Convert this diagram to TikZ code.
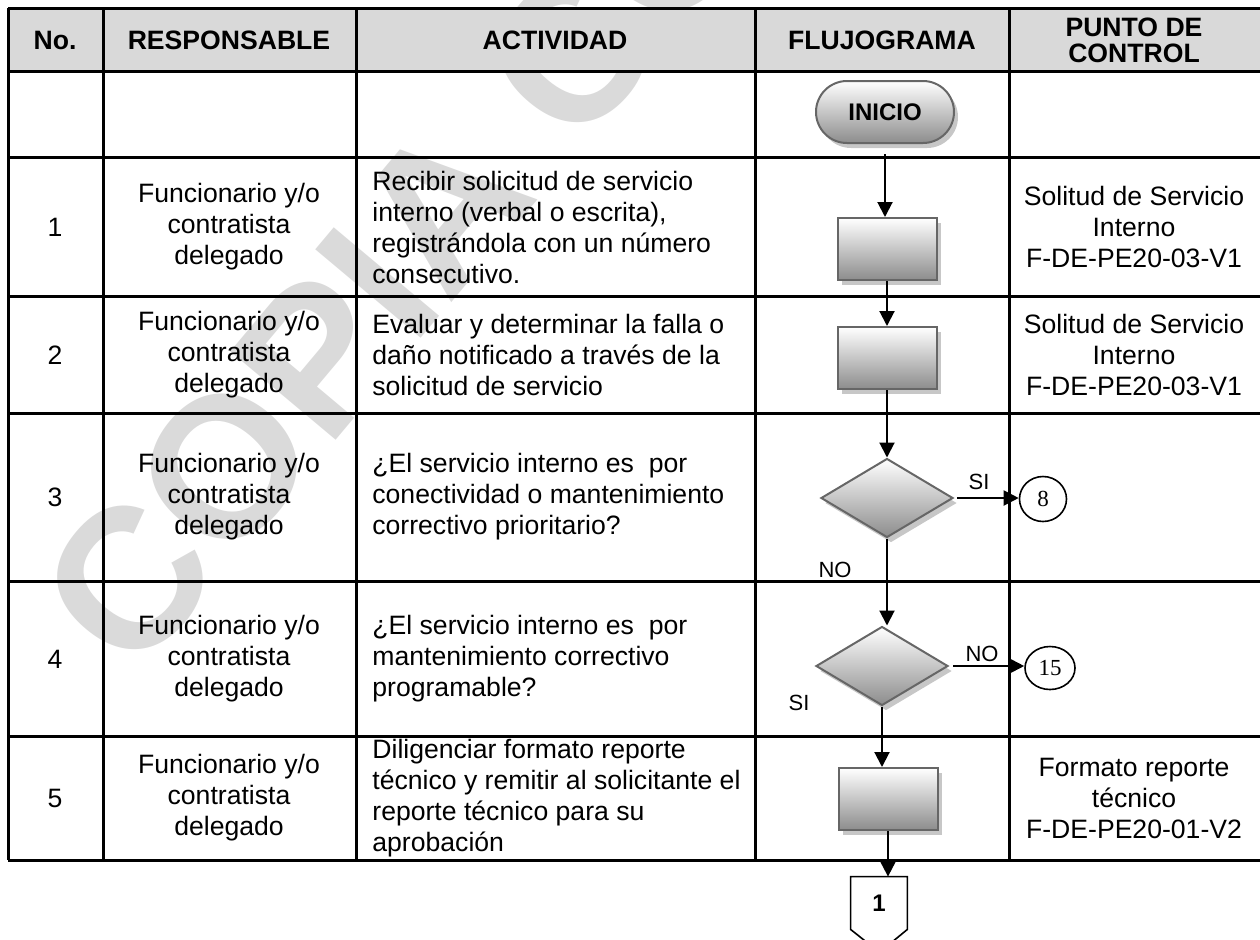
\documentclass[tikz,border=0pt]{standalone}
\usepackage{fontspec}
\setmainfont{Liberation Sans}
\newfontfamily\numfont{Liberation Serif}
\usetikzlibrary{arrows.meta,shapes.geometric,shapes.misc,shadows}
\definecolor{headgray}{HTML}{D9D9D9}
\definecolor{markgray}{HTML}{DADADA}
\begin{document}
\begin{tikzpicture}[x=0.5pt,y=0.5pt]
				\tikzstyle{every node}+=[inner sep=0pt]
				\tikzstyle{tablerule}=[black, line width=1.5pt]
				\tikzstyle{head}=[font=\fontsize{13.3}{13}\selectfont\bfseries, align=center]
				\tikzstyle{txt}=[font=\fontsize{13.3}{15.5}\selectfont, align=center]
				\tikzstyle{act}=[font=\fontsize{13.3}{15.5}\selectfont, align=left, anchor=west]
				\tikzstyle{flowshape}=[draw=black!60, line width=1pt, top color=white, bottom color=black!45, drop shadow={shadow xshift=2pt, shadow yshift=-2.5pt, fill=black!22, opacity=1}]
				\tikzstyle{proc}=[flowshape, rectangle, minimum width=49.5pt, minimum height=31pt]
				\tikzstyle{decision}=[flowshape, diamond, minimum width=66pt, minimum height=39.5pt]
				\tikzstyle{terminal}=[flowshape, rounded rectangle, minimum width=69pt, minimum height=31pt, font=\fontsize{12}{14}\selectfont\bfseries]
				\tikzstyle{jump}=[draw, ellipse, line width=0.8pt, minimum width=23.5pt, minimum height=22.5pt, font=\numfont\fontsize{11.5}{13}\selectfont]
				\tikzstyle{arr}=[black, line width=1pt, -{Triangle[width=7.5pt,length=7.5pt]}]
				\tikzstyle{lbl}=[font=\fontsize{11}{13}\selectfont]
				\useasboundingbox (0,0) rectangle (1260,-939);
				\node[rotate=50, anchor=base west, text=markgray, font=\fontsize{100}{100}\selectfont\bfseries] (wmark) at (134,-681) {COPIA CONTROLADA};
				\fill [headgray] (8,-8) rectangle (1260,-71);
				\draw [tablerule] (8,-8) -- (1260,-8);
				\draw [tablerule] (8,-71) -- (1260,-71);
				\draw [tablerule] (8,-157) -- (1260,-157);
				\draw [tablerule] (8,-296) -- (1260,-296);
				\draw [tablerule] (8,-413) -- (1260,-413);
				\draw [tablerule] (8,-581) -- (1260,-581);
				\draw [tablerule] (8,-736) -- (1260,-736);
				\draw [tablerule] (8,-860) -- (1260,-860);
				\draw [tablerule] (8,-8) -- (8,-860);
				\draw [tablerule] (103,-8) -- (103,-860);
				\draw [tablerule] (356,-8) -- (356,-860);
				\draw [tablerule] (755,-8) -- (755,-860);
				\draw [tablerule] (1009,-8) -- (1009,-860);
				\node[head] (hno) at (55,-40) {No.};
				\node[head] (hresp) at (229,-40) {RESPONSABLE};
				\node[head] (hact) at (555,-40) {ACTIVIDAD};
				\node[head] (hflujo) at (882,-40) {FLUJOGRAMA};
				\node[head] (hctrl) at (1134,-40) {PUNTO DE\\CONTROL};
				\node[txt] (no1) at (55,-227) {1};
				\node[txt] (resp1) at (229,-227) {Funcionario y/o\\contratista\\delegado};
				\node[act] (act1) at (372,-227) {Recibir solicitud de servicio\\interno (verbal o escrita),\\registrándola con un número\\consecutivo.};
				\node[txt] (ctrl1) at (1134,-227) {Solitud de Servicio\\Interno\\F-DE-PE20-03-V1};
				\node[txt] (no2) at (55,-355) {2};
				\node[txt] (resp2) at (229,-355) {Funcionario y/o\\contratista\\delegado};
				\node[act] (act2) at (372,-355) {Evaluar y determinar la falla o\\daño notificado a través de la\\solicitud de servicio};
				\node[txt] (ctrl2) at (1134,-355) {Solitud de Servicio\\Interno\\F-DE-PE20-03-V1};
				\node[txt] (no3) at (55,-497) {3};
				\node[txt] (resp3) at (229,-497) {Funcionario y/o\\contratista\\delegado};
				\node[act] (act3) at (372,-497) {¿El servicio interno es~ por\\conectividad o mantenimiento\\correctivo prioritario?};
				\node[txt] (no4) at (55,-659) {4};
				\node[txt] (resp4) at (229,-659) {Funcionario y/o\\contratista\\delegado};
				\node[act] (act4) at (372,-659) {¿El servicio interno es~ por\\mantenimiento correctivo\\programable?};
				\node[txt] (no5) at (55,-798) {5};
				\node[txt] (resp5) at (229,-798) {Funcionario y/o\\contratista\\delegado};
				\node[act] (act5) at (372,-798) {Diligenciar formato reporte\\técnico y remitir al solicitante el\\reporte técnico para su\\aprobación};
				\node[txt] (ctrl5) at (1134,-798) {Formato reporte\\técnico\\F-DE-PE20-01-V2};
				\node[terminal] (inicio) at (885,-112) {INICIO};
				\node[proc] (box1) at (887,-249) {};
				\node[proc] (box2) at (887,-358) {};
				\node[decision] (dec1) at (887,-498) {};
				\node[decision] (dec2) at (882,-666) {};
				\node[proc] (box5) at (888,-799) {};
				\node[jump] (to8) at (1043,-499) {8};
				\node[jump, minimum width=25pt, minimum height=21.5pt] (to15) at (1050,-668) {15};
				\node[minimum width=28pt, minimum height=26pt, font=\fontsize{12}{14}\selectfont\bfseries] (conn1) at (879,-903) {1};
				\draw [black, line width=0.8pt] (conn1.south west) -- (conn1.north west) -- (conn1.north east) -- (conn1.south east) -- ++(-14pt,-11.5pt) -- cycle;
				\draw [arr, shorten <=5pt] (inicio.south) -- (inicio.south |- box1.north);
				\draw [arr] (box1.south) -- (box1.south |- box2.north);
				\draw [arr] (box2.south) -- (box2.south |- dec1.north);
				\draw [arr] (dec1.south) -- (dec1.south |- dec2.north);
				\draw [arr] (dec2.south) -- (dec2.south |- box5.north);
				\draw [arr] (box5.south) -- (box5.south |- conn1.north);
				\draw [arr, shorten <=1.5pt] (dec1.east) -- (dec1.east -| to8.west);
				\draw [arr, shorten <=2pt] (dec2.east) -- (dec2.east -| to15.west);
				\node[lbl] (si1) at (979,-482) {SI};
				\node[lbl] (nolbl1) at (835,-570) {NO};
				\node[lbl] (nolbl2) at (982,-654) {NO};
				\node[lbl] (si2) at (799,-703) {SI};
\end{tikzpicture}
\end{document}
